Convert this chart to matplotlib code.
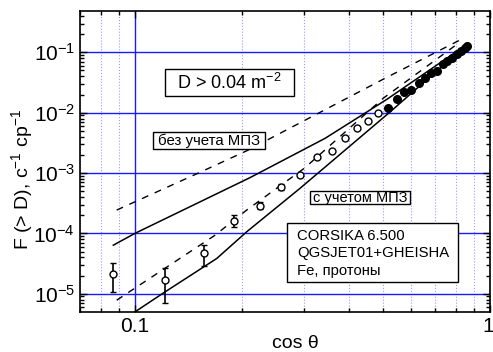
import matplotlib
matplotlib.use("Agg")
import matplotlib.pyplot as plt
import matplotlib.transforms as mtransforms
from matplotlib.ticker import LogLocator, FixedLocator, NullFormatter, FixedFormatter
from matplotlib.patches import Rectangle

plt.rcParams['font.family'] = ['Liberation Sans', 'DejaVu Sans']
plt.rcParams['mathtext.fontset'] = 'custom'
plt.rcParams['mathtext.rm'] = 'Liberation Sans'
plt.rcParams['mathtext.it'] = 'Liberation Sans:italic'
plt.rcParams['mathtext.bf'] = 'Liberation Sans:bold'

# ---- data ----
open_x = [0.0869, 0.1218, 0.1564, 0.1905, 0.225, 0.258, 0.2915, 0.325, 0.358, 0.390, 0.421, 0.4525, 0.485]
open_y = [2.1e-5, 1.66e-5, 4.64e-5, 1.59e-4, 2.86e-4, 5.77e-4, 9.3e-4, 1.82e-3, 2.3e-3, 3.84e-3, 5.5e-3, 7.26e-3, 9.8e-3]
open_err_lo = [1.05e-5, 9.7e-6, 1.74e-5, 3.3e-5, 3.5e-5, 6e-5, 0, 0, 0, 0, 0, 0, 0]
open_err_hi = [1.1e-5, 9.6e-6, 1.76e-5, 4.1e-5, 4e-5, 7e-5, 0, 0, 0, 0, 0, 0, 0]

fill_x = [0.515, 0.5455, 0.573, 0.600, 0.630, 0.656, 0.682, 0.708, 0.735, 0.759, 0.784, 0.807, 0.830, 0.848, 0.860]
fill_y = [1.18e-2, 1.66e-2, 2.16e-2, 2.37e-2, 3.13e-2, 3.82e-2, 4.49e-2, 4.93e-2, 6.32e-2, 7.1e-2, 8.1e-2, 9.3e-2, 0.107, 0.118, 0.127]

d1_x = [0.0888, 0.143, 0.2063, 0.5058, 0.823]
d1_y = [2.43e-4, 8.65e-4, 2.33e-3, 3.71e-2, 0.160]

d2_x = [0.0888, 0.168, 0.2063, 0.30, 0.50, 0.814]
d2_y = [7.8e-6, 9.3e-5, 2.43e-4, 1.2e-3, 1.73e-2, 0.141]

s1_x = [0.0869, 0.1, 0.211, 0.343, 0.512, 0.856]
s1_y = [6.37e-5, 1.0e-4, 8.4e-4, 3.75e-3, 1.66e-2, 0.132]

s2_x = [0.1, 0.1215, 0.170, 0.2063, 0.2915, 0.517, 0.856]
s2_y = [5.0e-6, 1.07e-5, 3.84e-5, 1.06e-4, 5.56e-4, 9.7e-3, 0.130]

x_ticks = [0.1, 1.0]
x_tick_labels = ['0.1', '1']

W, H = 493, 352
fig = plt.figure(figsize=(W / 100, H / 100), dpi=100)
L, R, T, B = 80, 490, 11, 311.7
ax = fig.add_axes([L / W, 1 - B / H, (R - L) / W, (B - T) / H])

ax.set_xscale('log')
ax.set_yscale('log')
ax.set_xlim(0.07, 1.0)
ax.set_ylim(5.03e-6, 0.484)

blue = '#1a1aff'
ax.xaxis.set_major_locator(FixedLocator(x_ticks))
ax.xaxis.set_major_formatter(FixedFormatter(x_tick_labels))
ax.xaxis.set_minor_locator(FixedLocator([0.07, 0.08, 0.09, 0.2, 0.3, 0.4, 0.5, 0.6, 0.7, 0.8, 0.9]))
ax.xaxis.set_minor_formatter(NullFormatter())
ax.yaxis.set_major_locator(LogLocator(base=10, numticks=20))
ax.yaxis.set_minor_locator(LogLocator(base=10, subs=range(2, 10), numticks=20))
ax.yaxis.set_minor_formatter(NullFormatter())

ax.grid(True, which='major', axis='both', color=blue, lw=1.0, ls='-', zorder=0)
ax.grid(True, which='minor', axis='x', color='#9a9aff', lw=0.8, ls=':', zorder=0)
ax.set_axisbelow(True)

ax.tick_params(which='both', direction='in', top=True, right=True, labelsize=15, width=1)
ax.tick_params(which='major', length=5)
ax.tick_params(which='minor', length=3)
for s in ax.spines.values():
    s.set_linewidth(1.2)

# shift the "1" label so it stays inside the figure
fig.canvas.draw()
lbls = ax.get_xticklabels()
if lbls:
    last = lbls[-1]
    last.set_ha('right')
    last.set_transform(last.get_transform() + mtransforms.ScaledTranslation(4 / 100, 0, fig.dpi_scale_trans))

# curves
ax.plot(d1_x, d1_y, color='black', lw=1.0, ls=(0, (5, 5)), zorder=3)
ax.plot(d2_x, d2_y, color='black', lw=1.0, ls=(0, (5, 5)), zorder=3)
ax.plot(s1_x, s1_y, color='black', lw=1.1, zorder=3)
ax.plot(s2_x, s2_y, color='black', lw=1.1, zorder=3)

# data points
ax.errorbar(open_x, open_y, yerr=[open_err_lo, open_err_hi], fmt='o', mfc='white', mec='black',
            ecolor='black', ms=5, mew=1.0, elinewidth=1.2, capsize=2.5, capthick=1.0, zorder=5)
ax.plot(fill_x, fill_y, 'o', color='black', ms=5.5, zorder=5)

def fx(px):
    return px / W

def fy(py):
    return 1 - py / H

fig.text(fx(22), fy(179), 'F (> D), с$^{-1}$ ср$^{-1}$', rotation=90, ha='center', va='center', fontsize=14)
fig.text(fx(295), fy(343), 'cos θ', ha='center', va='center', fontsize=14)

def box(x0, y0, x1, y1):
    r = Rectangle((fx(x0), fy(y1)), fx(x1) - fx(x0), fy(y0) - fy(y1), transform=fig.transFigure,
                  facecolor='white', edgecolor='black', lw=1.0, zorder=6)
    fig.patches.append(r)

box(165, 69, 294, 95.7)
fig.text(fx(229.5), fy(83), 'D > 0.04 m$^{-2}$', ha='center', va='center', fontsize=13, zorder=7)

box(153, 132.3, 265, 149)
fig.text(fx(209), fy(141), 'без учета МПЗ', ha='center', va='center', fontsize=10.8, zorder=7)

box(310, 190.7, 410, 204.3)
fig.text(fx(360), fy(197.8), 'с учетом МПЗ', ha='center', va='center', fontsize=10.5, zorder=7)

box(286.7, 223.3, 458.3, 281.7)
for i, line in enumerate(['CORSIKA 6.500', 'QGSJET01+GHEISHA', 'Fe, протоны']):
    fig.text(fx(297.3), fy(240 + i * 17.5), line, ha='left', va='baseline', fontsize=10.7, zorder=7)

fig.savefig('out.png', dpi=100)
